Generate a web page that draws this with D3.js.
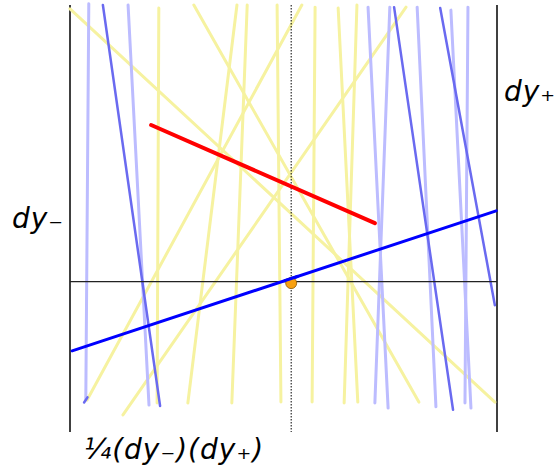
<!DOCTYPE html>
<html><head><meta charset="utf-8">
<script src="https://cdn.jsdelivr.net/npm/d3@7"></script>
<style>html,body{margin:0;padding:0;background:#fff;}svg{display:block;}</style>
</head><body>
<svg id="c" width="558" height="470"></svg>
<script>
// line segments in data units [x1, y1, x2, y2]
const yellowLines = [
  [0, 99.1, 99.5, 7.0],
  [29.0, 100, 81.7, 7.0],
  [54.3, 100, 4.0, 7.5],
  [78.7, 99.5, 12.4, 4.0],
  [20.8, 99.3, 20.4, 6.8],
  [39.1, 100, 27.6, 6.8],
  [41.5, 100, 37.9, 6.8],
  [48.5, 100, 49.4, 7.0],
  [57.4, 99.5, 56.7, 7.0],
  [62.8, 99.3, 67.4, 7.0],
  [67.2, 100, 64.2, 6.8]
];
const lightBlueLines = [
  [4.4, 100.3, 3.7, 7.5],
  [13.6, 100, 18.5, 6.3],
  [69.8, 99.5, 74.5, 5.6],
  [74.9, 99.5, 71.4, 6.8],
  [81.3, 99.5, 85.7, 5.9],
  [89.2, 98.8, 93.9, 5.6],
  [93.2, 99.5, 92.5, 6.8]
];
const midBlueLines = [
  [7.7, 100, 21.1, 6.1],
  [75.9, 99.5, 89.7, 5.2],
  [86.7, 99.3, 99.5, 29.7],
  [3.3, 6.9, 4.1, 8.1]
];
const redLine = [19.0, 71.9, 71.4, 48.9];
const blueLine = [0.5, 19.0, 99.8, 51.8];
const point = [51.8, 35.1];
const axisY = 35.2;      // horizontal axis level
const centerX = 51.8;    // dotted vertical line
const labels = ["dy\u208B", "dy\u208A", "\u00BC(dy\u208B)(dy\u208A)"];

const svg = d3.select("#c");
const x = d3.scaleLinear().domain([0, 100]).range([70, 497]);
const y = d3.scaleLinear().domain([0, 100]).range([432, 5]);

function drawLines(data, color, width) {
  svg.append("g").selectAll("line").data(data).join("line")
    .attr("x1", d => x(d[0])).attr("y1", d => y(d[1]))
    .attr("x2", d => x(d[2])).attr("y2", d => y(d[3]))
    .attr("stroke", color).attr("stroke-width", width)
    .attr("stroke-linecap", "round");
}

// axes
svg.append("line").attr("x1", x(0)).attr("x2", x(0)).attr("y1", y(100)).attr("y2", y(0))
  .attr("stroke", "#000").attr("stroke-width", 1.5);
svg.append("line").attr("x1", x(100)).attr("x2", x(100)).attr("y1", y(100)).attr("y2", y(0))
  .attr("stroke", "#000").attr("stroke-width", 1.5);

drawLines(yellowLines, "#f6f2a0", 3);
drawLines(lightBlueLines, "#bcbcff", 3);
drawLines(midBlueLines, "#6a6af0", 2.5);

svg.append("line").attr("x1", x(0)).attr("x2", x(100)).attr("y1", y(axisY)).attr("y2", y(axisY))
  .attr("stroke", "#222").attr("stroke-width", 1.3);
svg.append("line").attr("x1", x(centerX)).attr("x2", x(centerX)).attr("y1", y(100)).attr("y2", y(0))
  .attr("stroke", "#000").attr("stroke-width", 1).attr("stroke-dasharray", "1.5,1.5");

drawLines([redLine], "#ff0000", 4);
drawLines([blueLine], "#0000ff", 3);
svg.append("circle").attr("cx", x(point[0])).attr("cy", y(point[1]) + 1).attr("r", 5.5)
  .attr("fill", "#f8a010").attr("stroke", "#8a5500").attr("stroke-width", 0.8);
// blue line passes over the upper part of the point
svg.append("line")
  .attr("x1", x(point[0]) - 7).attr("x2", x(point[0]) + 7)
  .attr("y1", y(blueLine[1] + (blueLine[3]-blueLine[1])*((point[0]-blueLine[0]-7/4.27)/(blueLine[2]-blueLine[0]))))
  .attr("y2", y(blueLine[1] + (blueLine[3]-blueLine[1])*((point[0]-blueLine[0]+7/4.27)/(blueLine[2]-blueLine[0]))))
  .attr("stroke", "#0000ff").attr("stroke-width", 3);

const font = "'DejaVu Sans', sans-serif";
function label(txt, lx, ly) {
  svg.append("text").attr("x", lx).attr("y", ly).text(txt)
    .attr("font-family", font).attr("font-style", "italic").attr("font-size", 28)
    .attr("letter-spacing", 1).attr("fill", "#000");
}
label(labels[0], 12, 228);
label(labels[1], 504, 101);
label(labels[2], 84, 459);
</script>
</body></html>
